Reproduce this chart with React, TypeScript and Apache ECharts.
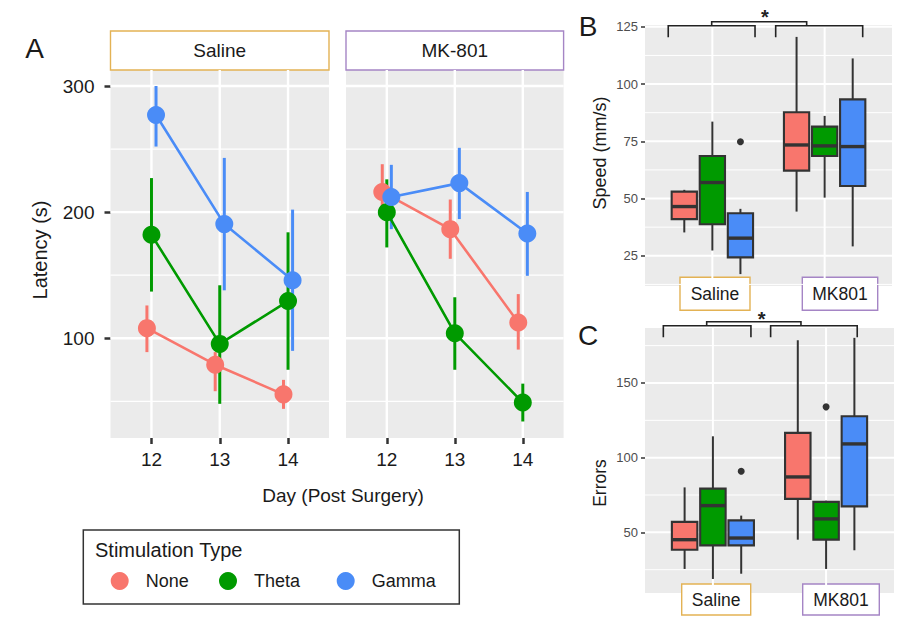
import React, { useEffect, useRef } from "react";
import * as echarts from "echarts";

// ---------- data ----------
const days = [12, 13, 14];
const groups = ["None", "Theta", "Gamma"];
// [mean, lower, upper] for each day
const salineNone = [[108, 89, 126], [79, 58, 89], [55.5, 44, 67]];
const salineTheta = [[182, 137, 227], [95.5, 48, 142], [129.5, 75, 184]];
const salineGamma = [[277, 252, 300], [190.5, 138, 243], [146, 90, 202]];
const mk801None = [[216, 196, 238], [186.5, 163, 210], [112.5, 91, 135]];
const mk801Theta = [[200, 172, 226], [104, 75, 132.5], [49, 34, 64]];
const mk801Gamma = [[212, 186.5, 237.5], [223, 194.5, 251], [183, 149.5, 216]];

// boxes: [lower whisker, Q1, median, Q3, upper whisker] for None, Theta, Gamma
const speedSaline = [[35.2, 41, 46.5, 53, 53.8], [27.3, 38.8, 57, 68.6, 83.6], [17, 24.3, 32.7, 43.6, 45.5]];
const speedMK801 = [[44.3, 62.2, 73.4, 87.7, 120.6], [50.4, 68.6, 73, 81.4, 86.1], [29.1, 55.5, 72.7, 93.3, 111.2]];
const speedOutliers = [[1, 2, 74.8]]; // [condition, group, value]
const errorsSaline = [[25.5, 38.4, 45.1, 57, 80.1], [18.8, 41.3, 67.9, 79.3, 114.3], [22.3, 41.3, 46.2, 58, 61.2]];
const errorsMK801 = [[45.1, 72.4, 87.1, 116.6, 178.6], [25.5, 45.1, 59, 70.4, 71.2], [38, 67.4, 109.2, 127.7, 180.2]];
const errorsOutliers = [[1, 2, 90.9], [2, 1, 134]];

// axis ticks
const latencyTicks = [100, 200, 300];
const latencyMinor = [50, 150, 250];
const speedTicks = [25, 50, 75, 100, 125];
const speedMinor = [12.5, 37.5, 62.5, 87.5, 112.5];
const errorTicks = [50, 100, 150];
const errorMinor = [25, 75, 125, 175];
const conditions = [1, 2];

// significance brackets: x = [L-left, L-center, L-right, R-left, R-center, R-right], y = [leg, bar, top], star [x, y]
const speedBracketX = [0.607, 0.994, 1.38, 1.564, 1.84, 2.339];
const speedBracketY = [120.4, 125.5, 127.2];
const speedStar = [1.469, 129.1];
const errorBracketX = [0.562, 0.945, 1.336, 1.51, 1.778, 2.275];
const errorBracketY = [180.6, 188.3, 191.0];
const errorStar = [1.431, 192.8];

// ---------- style ----------
const FONT = '"Liberation Sans", Arial, Helvetica, sans-serif';
const COLORS = ["#F8766D", "#009A00", "#4A8CF7"];
const DODGE_A = 0.2 / 3;
const DODGE_BOX = 0.25;
const BOX_W = 0.225;
const DARK = "#333333";

const gridRender = (major: number, minor: number) => (params: any, api: any) => {
  const cs = params.coordSys;
  const o = api.value(0);
  const v = api.value(1);
  const maj = api.value(2);
  const p = api.coord([v, v]);
  const style = { stroke: "#ffffff", lineWidth: maj ? major : minor };
  if (o === 0) {
    return { type: "line", silent: true, shape: { x1: cs.x, y1: p[1], x2: cs.x + cs.width, y2: p[1] }, style };
  }
  return { type: "line", silent: true, shape: { x1: p[0], y1: cs.y, x2: p[0], y2: cs.y + cs.height }, style };
};

const gridData = (vert: number[], major: number[], minor: number[]) => [
  ...vert.map((v) => [1, v, 1]),
  ...major.map((v) => [0, v, 1]),
  ...minor.map((v) => [0, v, 0]),
];

const errRender = (params: any, api: any) => {
  const x = api.value(0);
  const lo = api.coord([x, api.value(1)]);
  const hi = api.coord([x, api.value(2)]);
  return {
    type: "line",
    shape: { x1: lo[0], y1: lo[1], x2: hi[0], y2: hi[1] },
    style: { stroke: COLORS[api.value(3)], lineWidth: 3 },
  };
};

const boxRender = (params: any, api: any) => {
  const x = api.value(0);
  const lo = api.value(1), q1 = api.value(2), med = api.value(3), q3 = api.value(4), hi = api.value(5);
  const color = COLORS[api.value(6)];
  const h = BOX_W / 2;
  const tl = api.coord([x - h, q3]);
  const br = api.coord([x + h, q1]);
  const top = api.coord([x, hi]);
  const bot = api.coord([x, lo]);
  const m = api.coord([x, med]);
  const ls = { stroke: DARK, lineWidth: 2 };
  return {
    type: "group",
    children: [
      { type: "line", shape: { x1: top[0], y1: top[1], x2: top[0], y2: tl[1] }, style: ls },
      { type: "line", shape: { x1: bot[0], y1: br[1], x2: bot[0], y2: bot[1] }, style: ls },
      { type: "rect", shape: { x: tl[0], y: tl[1], width: br[0] - tl[0], height: br[1] - tl[1] }, style: { fill: color, stroke: DARK, lineWidth: 2.1 } },
      { type: "line", shape: { x1: tl[0], y1: m[1], x2: br[0], y2: m[1] }, style: { stroke: DARK, lineWidth: 3.4 } },
    ],
  };
};

const bracketRender = (bx: number[], by: number[], star: number[]) => (params: any, api: any) => {
  const c = (x: number, y: number) => api.coord([x, y]);
  const [yLeg, yBar, yTop] = by;
  const st = { stroke: "#222222", lineWidth: 1.6, fill: "none" };
  const br = (a: number, b: number) => ({
    type: "polyline",
    shape: { points: [c(a, yLeg), c(a, yBar), c(b, yBar), c(b, yLeg)] },
    style: st,
  });
  const sp = c(star[0], star[1]);
  return {
    type: "group",
    children: [
      br(bx[0], bx[2]),
      br(bx[3], bx[5]),
      { type: "polyline", shape: { points: [c(bx[1], yBar), c(bx[1], yTop), c(bx[4], yTop), c(bx[4], yBar)] }, style: st },
      { type: "text", style: { text: "*", x: sp[0], y: sp[1], align: "center", verticalAlign: "middle", font: `bold 20px ${FONT}`, fill: "#222222" } },
    ],
  };
};

function panelASeries(idx: number, sets: number[][][]) {
  const out: any[] = [];
  out.push({
    type: "custom", xAxisIndex: idx, yAxisIndex: idx, z: 1, silent: true,
    renderItem: gridRender(2.4, 1.2), data: gridData(days, latencyTicks, latencyMinor),
  });
  const errData: number[][] = [];
  sets.forEach((s, g) => s.forEach((d, i) => errData.push([days[i] + (g - 1) * DODGE_A, d[1], d[2], g])));
  out.push({ type: "custom", xAxisIndex: idx, yAxisIndex: idx, z: 2, silent: true, renderItem: errRender, data: errData });
  sets.forEach((s, g) => {
    const pts = s.map((d, i) => [days[i] + (g - 1) * DODGE_A, d[0]]);
    out.push({
      type: "line", xAxisIndex: idx, yAxisIndex: idx, z: 3, silent: true, showSymbol: false, symbol: "none",
      data: pts, lineStyle: { color: COLORS[g], width: 2.6 }, itemStyle: { color: COLORS[g] },
    });
  });
  sets.forEach((s, g) => {
    const pts = s.map((d, i) => [days[i] + (g - 1) * DODGE_A, d[0]]);
    out.push({
      type: "scatter", name: groups[g], xAxisIndex: idx, yAxisIndex: idx, z: 4 + g, silent: true,
      symbol: "circle", symbolSize: 18, data: pts, itemStyle: { color: COLORS[g], opacity: 1 },
    });
  });
  return out;
}

function panelBoxSeries(idx: number, saline: number[][], mk: number[][], outliers: number[][], major: number[], minor: number[], bx: number[], by: number[], star: number[]) {
  const boxData: number[][] = [];
  [saline, mk].forEach((set, ci) =>
    set.forEach((b, g) => boxData.push([conditions[ci] + (g - 1) * DODGE_BOX, ...b, g]))
  );
  return [
    { type: "custom", xAxisIndex: idx, yAxisIndex: idx, z: 1, silent: true, renderItem: gridRender(2, 1), data: gridData(conditions, major, minor) },
    { type: "custom", xAxisIndex: idx, yAxisIndex: idx, z: 3, silent: true, renderItem: boxRender, data: boxData },
    {
      type: "scatter", xAxisIndex: idx, yAxisIndex: idx, z: 4, silent: true, symbolSize: 7,
      itemStyle: { color: DARK, opacity: 1 },
      data: outliers.map((o) => [o[0] + (o[1] - 1) * DODGE_BOX, o[2]]),
    },
    { type: "custom", xAxisIndex: idx, yAxisIndex: idx, z: 5, silent: true, renderItem: bracketRender(bx, by, star), data: [[1, 100]] },
  ];
}

const txt = (text: string, x: number, y: number, size: number, extra: any = {}) => ({
  type: "text",
  x, y,
  ...extra,
  style: { text, font: `${size}px ${FONT}`, fill: "#1a1a1a", align: "center", verticalAlign: "middle", ...(extra.style || {}) },
});

export default function App() {
  const ref = useRef<HTMLDivElement>(null);
  useEffect(() => {
    if (!ref.current) return;
    const chart = echarts.init(ref.current, undefined, { renderer: "svg" });
    const gridBg = { show: true, backgroundColor: "#EBEBEB", borderWidth: 0 };
    const hidden = { axisLine: { show: false }, axisTick: { show: false }, axisLabel: { show: false }, splitLine: { show: false } };
    const option: any = {
      animation: false,
      backgroundColor: "#ffffff",
      textStyle: { fontFamily: FONT },
      grid: [
        { left: 110.5, top: 70, width: 218.5, height: 368, ...gridBg },
        { left: 346, top: 70, width: 217.6, height: 368, ...gridBg },
        { left: 645, top: 25, width: 247, height: 261, ...gridBg },
        { left: 645, top: 328, width: 249, height: 265, ...gridBg },
      ],
      xAxis: [
        {
          gridIndex: 0, type: "value", min: 11.4, max: 14.6, axisLine: { show: false }, splitLine: { show: false },
          axisTick: { show: true, customValues: days, length: 6, lineStyle: { color: DARK, width: 2.5 } },
          axisLabel: { customValues: days, fontSize: 19, color: "#1a1a1a", margin: 12, fontFamily: FONT },
        },
        {
          gridIndex: 1, type: "value", min: 11.4, max: 14.6, axisLine: { show: false }, splitLine: { show: false },
          axisTick: { show: true, customValues: days, length: 6, lineStyle: { color: DARK, width: 2.5 } },
          axisLabel: { customValues: days, fontSize: 19, color: "#1a1a1a", margin: 12, fontFamily: FONT },
        },
        { gridIndex: 2, type: "value", min: 0.4, max: 2.6, ...hidden },
        { gridIndex: 3, type: "value", min: 0.4, max: 2.6, ...hidden },
      ],
      yAxis: [
        {
          gridIndex: 0, type: "value", min: 20.9, max: 312.7, axisLine: { show: false }, splitLine: { show: false },
          axisTick: { show: true, customValues: latencyTicks, length: 6, lineStyle: { color: DARK, width: 2.5 } },
          axisLabel: { customValues: latencyTicks, fontSize: 19, color: "#1a1a1a", margin: 16, fontFamily: FONT },
        },
        { gridIndex: 1, type: "value", min: 20.9, max: 312.7, ...hidden },
        {
          gridIndex: 2, type: "value", min: 11.8, max: 125.8, axisLine: { show: false }, splitLine: { show: false },
          axisTick: { show: true, customValues: speedTicks, length: 4, lineStyle: { color: DARK, width: 1.5 } },
          axisLabel: { customValues: speedTicks, fontSize: 13, color: "#4d4d4d", margin: 7, fontFamily: FONT },
        },
        {
          gridIndex: 3, type: "value", min: 9.4, max: 186.8, axisLine: { show: false }, splitLine: { show: false },
          axisTick: { show: true, customValues: errorTicks, length: 4, lineStyle: { color: DARK, width: 1.5 } },
          axisLabel: { customValues: errorTicks, fontSize: 13, color: "#4d4d4d", margin: 7, fontFamily: FONT },
        },
      ],
      legend: [0, 1, 2].map((g) => ({
        data: [{ name: groups[g], icon: "circle" }],
        left: [105.7, 214, 331.7][g],
        top: 567,
        itemWidth: 42,
        itemHeight: 18,
        selectedMode: false,
        textStyle: { fontSize: 18, color: "#1a1a1a", fontFamily: FONT },
      })),
      series: [
        ...panelASeries(0, [salineNone, salineTheta, salineGamma]),
        ...panelASeries(1, [mk801None, mk801Theta, mk801Gamma]),
        ...panelBoxSeries(2, speedSaline, speedMK801, speedOutliers, speedTicks, speedMinor, speedBracketX, speedBracketY, speedStar),
        ...panelBoxSeries(3, errorsSaline, errorsMK801, errorsOutliers, errorTicks, errorMinor, errorBracketX, errorBracketY, errorStar),
      ],
      graphic: [
        txt("A", 34.7, 48.5, 28),
        txt("B", 588, 26, 28),
        txt("C", 588, 335, 28),
        { type: "rect", shape: { x: 110.5, y: 31, width: 218.5, height: 39 }, style: { fill: "#ffffff", stroke: "#E3B254", lineWidth: 1.4 } },
        txt("Saline", 219.7, 50.5, 19),
        { type: "rect", shape: { x: 346, y: 31, width: 217.6, height: 39 }, style: { fill: "#ffffff", stroke: "#A585C5", lineWidth: 1.4 } },
        txt("MK-801", 454.8, 50.5, 19),
        txt("Latency (s)", 40, 250, 20, { rotation: Math.PI / 2 }),
        txt("Day (Post Surgery)", 343, 495.5, 19),
        txt("Speed (mm/s)", 599.5, 153, 18, { rotation: Math.PI / 2 }),
        txt("Errors", 599.5, 483, 17.5, { rotation: Math.PI / 2 }),
        { type: "rect", shape: { x: 83.3, y: 530, width: 376, height: 74 }, style: { fill: "none", stroke: DARK, lineWidth: 1.5 } },
        txt("Stimulation Type", 95, 549.5, 20, { style: { align: "left" } }),
        { type: "rect", shape: { x: 680, y: 277.3, width: 70, height: 33 }, style: { fill: "#ffffff", stroke: "#E3B254", lineWidth: 1.4 } },
        txt("Saline", 715, 294, 17.5),
        { type: "rect", shape: { x: 802.3, y: 277.3, width: 75.4, height: 33 }, style: { fill: "#ffffff", stroke: "#A585C5", lineWidth: 1.4 } },
        txt("MK801", 840, 294, 17.5),
        { type: "rect", shape: { x: 681.7, y: 584, width: 69, height: 31 }, style: { fill: "#ffffff", stroke: "#E3B254", lineWidth: 1.4 } },
        txt("Saline", 716.2, 599.5, 17.5),
        { type: "rect", shape: { x: 802.7, y: 584, width: 76.6, height: 31 }, style: { fill: "#ffffff", stroke: "#A585C5", lineWidth: 1.4 } },
        txt("MK801", 841, 599.5, 17.5),
      ],
    };
    chart.setOption(option);
    return () => chart.dispose();
  }, []);
  return (
    <div
      ref={ref}
      style={{ position: "absolute", left: 0, top: 0, width: 903, height: 621, background: "#ffffff" }}
    />
  );
}
